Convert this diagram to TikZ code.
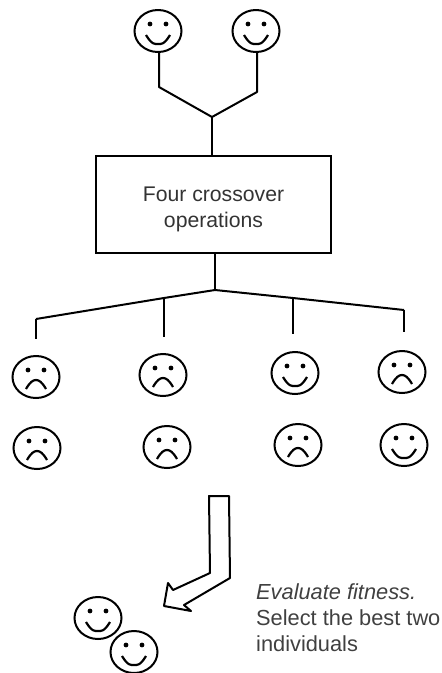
\documentclass[tikz,border=0pt]{standalone}
\usepackage{fontspec}
\setmainfont{Liberation Sans}
\usetikzlibrary{shapes.geometric}
\tikzset{
    face/.style={draw, ellipse, line width=2pt, inner sep=0pt, minimum width=47pt, minimum height=42pt},
    wire/.style={line width=2pt, line join=round},
    crossbox/.style={draw, line width=2pt, minimum width=235pt, minimum height=97pt},
    caption/.style={inner sep=0pt, align=left, anchor=north west, text=black!75}
}
\newcommand{\eyes}{
    \fill (-8,-7) circle (2.4);
    \fill (8,-7) circle (2.4);
}
\newcommand{\happyface}[3]{
    \node[face] (#1) at (#2,#3) {};
    \begin{scope}[shift={(#2,#3)}]
        \eyes
        \draw[line width=2.2pt] (-12,4) .. controls (-6,14) and (-3,13) .. (0,13) .. controls (3,13) and (6,14) .. (12,4);
    \end{scope}
}
\newcommand{\sadface}[3]{
    \node[face] (#1) at (#2,#3) {};
    \begin{scope}[shift={(#2,#3)}]
        \eyes
        \draw[line width=2.2pt] (-10,12) .. controls (-6,5) and (-3,3) .. (0,3) .. controls (3,3) and (6,5) .. (10,12);
    \end{scope}
}
\begin{document}
\begin{tikzpicture}[x=1pt,y=-1pt]
    \useasboundingbox (0,0) rectangle (442,673);

    % Parents
    \happyface{parentA}{158}{31}
    \happyface{parentB}{256}{31}

    % Crossover box
    \node[crossbox] (cross) at (213.5,204.5) {};
    \node[font=\fontsize{21.2}{26}\selectfont, text=black!80, align=center] (crosstext) at (213.5,209) {Four crossover\\operations};

    % Joining the parents
    \coordinate (bendA) at (159,87);
    \coordinate (bendB) at (257,92);
    \coordinate (join) at (212,117);
    \draw[wire] (parentA.south -| bendA) -- (bendA) -- (join) -- (bendB) -- (parentB.south -| bendB);
    \draw[wire] (join) -- (join |- cross.north);

    % Children, first row
    \sadface{childA}{36}{377}
    \sadface{childB}{163}{375}
    \happyface{childC}{295}{373}
    \sadface{childD}{402}{372}

    % Children, second row
    \sadface{childE}{37}{448}
    \sadface{childF}{167}{447}
    \sadface{childG}{298}{445}
    \happyface{childH}{404}{445}

    % Fan out to the children
    \coordinate (fork) at (215,290);
    \coordinate (forkA) at (36,319);
    \coordinate (forkB) at (164,298);
    \coordinate (forkC) at (293,298);
    \coordinate (forkD) at (404,310);
    \draw[wire] (fork |- cross.south) -- (fork);
    \draw[wire] (forkA) -- (forkB) -- (fork) -- (forkC) -- (forkD);
    \foreach \name/\y in {forkA/339,forkB/337,forkC/334,forkD/332} {
        \draw[wire] (\name) -- (\name |- 0,\y);
    }

    % Selection arrow
    \draw[wire] (209,496) -- (229,496) -- (230,578) -- (184,605) -- (191,611) -- (164,606)
        -- (168,583) -- (173,590) -- (210,573) -- cycle;

    % The two selected
    \happyface{bestA}{98}{618}
    \happyface{bestB}{134}{652}

    \node[caption, font=\fontsize{21.8}{26}\selectfont] (note) at (256,583.5) {\textit{Evaluate fitness.}\\Select the best two\\individuals};
\end{tikzpicture}
\end{document}
